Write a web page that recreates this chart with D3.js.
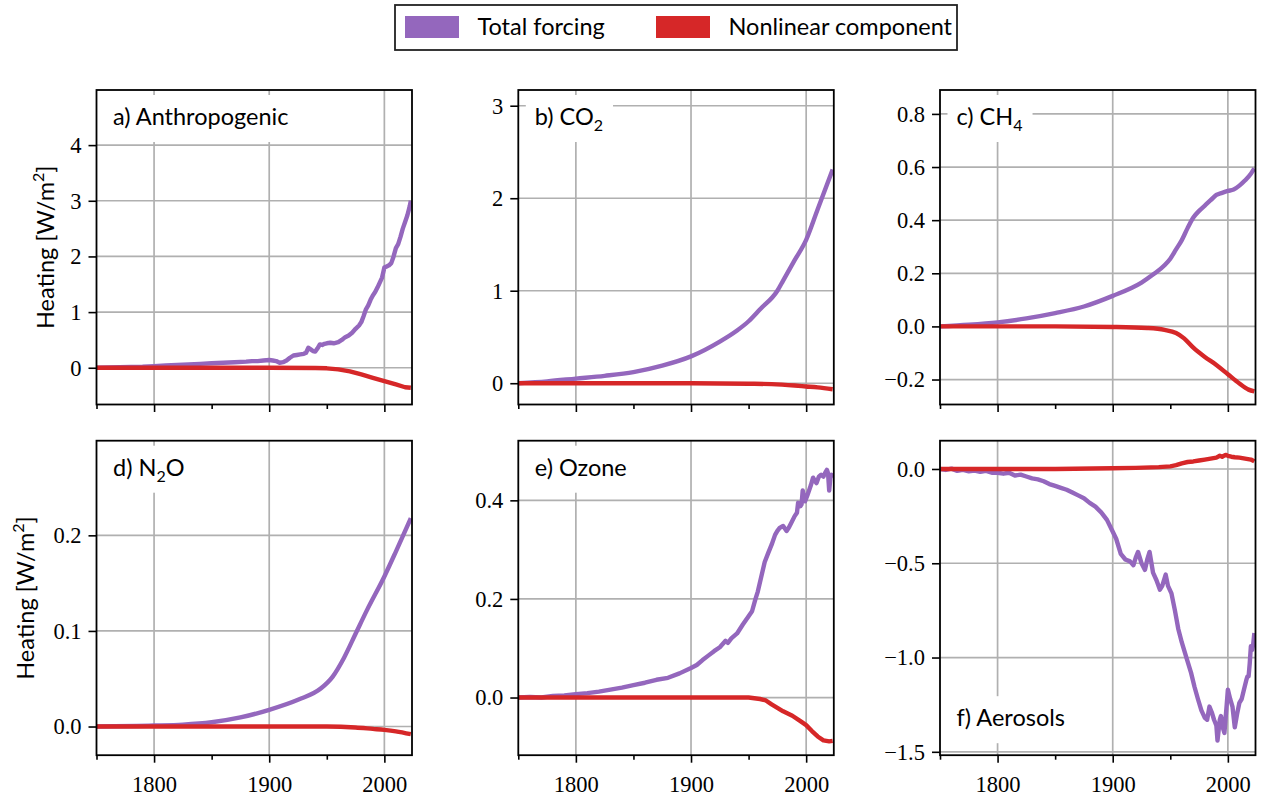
<!DOCTYPE html>
<html>
<head>
<meta charset="utf-8">
<script src="https://cdn.jsdelivr.net/npm/d3@7"></script>
<style>
  body { margin: 0; background: #fff; }
  svg { display: block; }
</style>
</head>
<body>
<svg id="chart" width="1265" height="796"></svg>
<script>

// series (years, W/m2)

const aTotalYears = [1750,1760,1770,1780,1790,1800,1810,1820,1830,1840,1850,1860,1870,1880,1885,1890,1895,1900,1903,1906,1909,1912,1915,1918,1921,1924,1927,1930,1932,1934,1936,1938,1940,1942,1944,1946,1948,1950,1953,1956,1960,1963,1966,1969,1972,1975,1978,1980,1982,1984,1986,1988,1990,1992,1994,1996,1998,2000,2002,2004,2006,2008,2010,2012,2014,2016,2018,2020,2022,2023];
const aTotal = [0,0.005,0.01,0.015,0.02,0.03,0.04,0.05,0.06,0.07,0.08,0.09,0.1,0.11,0.12,0.12,0.13,0.14,0.13,0.12,0.09,0.1,0.13,0.18,0.22,0.23,0.24,0.25,0.27,0.36,0.33,0.3,0.29,0.35,0.42,0.41,0.43,0.44,0.45,0.44,0.46,0.5,0.55,0.58,0.63,0.7,0.76,0.82,0.93,1.05,1.12,1.22,1.3,1.36,1.44,1.53,1.62,1.8,1.82,1.84,1.88,2.0,2.15,2.22,2.35,2.5,2.62,2.74,2.9,3.0];
const aNonlinYears = [1750,1900,1940,1950,1960,1970,1980,1990,2000,2010,2018,2023];
const aNonlin = [0,0,-0.003,-0.01,-0.03,-0.065,-0.12,-0.18,-0.24,-0.3,-0.35,-0.36];

const bTotalYears = [1750,1775,1800,1825,1850,1875,1900,1925,1940,1950,1960,1975,1980,1990,2000,2010,2023];
const bTotal = [0,0.02,0.05,0.08,0.12,0.19,0.29,0.45,0.57,0.67,0.8,1.0,1.11,1.33,1.55,1.88,2.31];
const bNonlinYears = [1750,1900,1950,1970,1990,2000,2010,2023];
const bNonlin = [0,0,-0.005,-0.01,-0.025,-0.035,-0.045,-0.065];

const cTotalYears = [1750,1775,1800,1825,1850,1875,1900,1925,1935,1945,1950,1955,1960,1965,1970,1975,1980,1985,1990,1995,2000,2005,2010,2015,2020,2023];
const cTotal = [0,0.006,0.015,0.03,0.05,0.075,0.115,0.165,0.195,0.23,0.255,0.29,0.325,0.37,0.41,0.435,0.455,0.475,0.495,0.503,0.51,0.515,0.53,0.55,0.575,0.595];
const cNonlinYears = [1750,1850,1900,1930,1945,1955,1962,1970,1980,1990,2000,2010,2018,2023];
const cNonlin = [0,0,-0.002,-0.006,-0.013,-0.025,-0.045,-0.08,-0.115,-0.145,-0.18,-0.215,-0.238,-0.245];

const dTotalYears = [1750,1800,1825,1850,1875,1900,1925,1945,1955,1965,1975,1985,2000,2010,2023];
const dTotal = [0,0.001,0.002,0.0045,0.0095,0.0175,0.028,0.04,0.052,0.072,0.097,0.122,0.157,0.183,0.218];
const dNonlinYears = [1750,1950,1975,1990,2000,2010,2023];
const dNonlin = [0,0,-0.001,-0.0025,-0.0035,-0.005,-0.008];

const eTotalYears = [1750,1760,1770,1780,1790,1800,1810,1820,1830,1840,1850,1860,1870,1880,1890,1900,1905,1910,1915,1920,1925,1930,1932,1935,1940,1945,1950,1953,1956,1958,1961,1964,1967,1970,1973,1975,1977,1980,1983,1985,1987,1990,1992,1993,1995,1996,1997,1999,2001,2004,2006,2008,2009,2011,2013,2015,2017,2018,2019,2020,2021,2022,2023];
const eTotal = [0,0.001,0,0.003,0.004,0.007,0.009,0.012,0.016,0.02,0.025,0.03,0.036,0.04,0.049,0.06,0.066,0.076,0.085,0.094,0.102,0.115,0.111,0.12,0.13,0.148,0.165,0.175,0.2,0.215,0.245,0.275,0.293,0.31,0.33,0.338,0.344,0.348,0.338,0.345,0.354,0.368,0.375,0.395,0.388,0.392,0.42,0.398,0.41,0.43,0.446,0.438,0.435,0.448,0.452,0.448,0.458,0.462,0.455,0.42,0.445,0.452,0.448];
const eNonlinYears = [1750,1950,1960,1965,1970,1975,1980,1988,1995,2000,2005,2010,2015,2020,2023];
const eNonlin = [0,0,-0.003,-0.006,-0.014,-0.021,-0.028,-0.037,-0.048,-0.056,-0.068,-0.079,-0.087,-0.089,-0.088];

const fTotalYears = [1750,1755,1760,1765,1770,1775,1780,1785,1790,1795,1800,1805,1810,1815,1820,1825,1830,1835,1840,1845,1850,1855,1860,1865,1870,1875,1880,1885,1890,1895,1899,1903,1907,1911,1915,1918,1920,1922,1925,1928,1930,1932,1935,1938,1941,1943,1946,1948,1951,1954,1957,1960,1964,1968,1971,1974,1977,1980,1982,1984,1986,1988,1990,1991,1993,1994,1996,1997,1999,2000,2002,2004,2006,2008,2010,2012,2014,2016,2017,2018,2019,2020,2021,2022,2023];
const fTotal = [0,-0.005,0.002,-0.01,-0.005,-0.012,-0.008,-0.015,-0.01,-0.02,-0.02,-0.025,-0.02,-0.035,-0.03,-0.04,-0.05,-0.055,-0.065,-0.08,-0.09,-0.1,-0.11,-0.125,-0.14,-0.155,-0.18,-0.2,-0.23,-0.27,-0.32,-0.37,-0.45,-0.48,-0.49,-0.51,-0.47,-0.44,-0.5,-0.535,-0.48,-0.44,-0.55,-0.59,-0.64,-0.62,-0.56,-0.62,-0.66,-0.75,-0.85,-0.92,-1.0,-1.08,-1.155,-1.22,-1.28,-1.32,-1.33,-1.26,-1.29,-1.33,-1.36,-1.44,-1.33,-1.31,-1.38,-1.4,-1.25,-1.17,-1.22,-1.26,-1.37,-1.3,-1.24,-1.22,-1.17,-1.12,-1.1,-1.1,-1.03,-0.94,-0.96,-0.93,-0.87];
const fNonlinYears = [1750,1800,1850,1900,1920,1940,1950,1955,1960,1965,1970,1975,1980,1985,1990,1993,1995,1998,2000,2003,2006,2010,2015,2020,2023];
const fNonlin = [0,0,0,0.004,0.006,0.01,0.014,0.02,0.03,0.037,0.04,0.045,0.05,0.055,0.06,0.07,0.065,0.075,0.07,0.065,0.062,0.06,0.055,0.05,0.04];

const legendLabels = ["Total forcing", "Nonlinear component"];
const xMajor = [1800, 1900, 2000];
const xMinor = [1750, 1850, 1950];

const purple = "#9467bd", red = "#d62728", gridColor = "#b0b0b0";
const serif = "'Liberation Serif'";
const sans = "'Lato'";

const W = 315.5, H = 314.5;
const lefts = [96.5, 518.3, 940], tops = [90, 440.7];

const panels = [
  { label: [["a) Anthropogenic"]], total: [aTotalYears, aTotal], nonlin: [aNonlinYears, aNonlin],
    yDomain: [-0.66, 4.99], yTicks: [0, 1, 2, 3, 4], fmt: d3.format("d"), col: 0, row: 0, smooth: false },
  { label: [["b) CO"], ["2", true]], total: [bTotalYears, bTotal], nonlin: [bNonlinYears, bNonlin],
    yDomain: [-0.23, 3.17], yTicks: [0, 1, 2, 3], fmt: d3.format("d"), col: 1, row: 0, smooth: true },
  { label: [["c) CH"], ["4", true]], total: [cTotalYears, cTotal], nonlin: [cNonlinYears, cNonlin],
    yDomain: [-0.294, 0.89], yTicks: [-0.2, 0, 0.2, 0.4, 0.6, 0.8], fmt: d3.format(".1f"), col: 2, row: 0, smooth: true },
  { label: [["d) N"], ["2", true], ["O"]], total: [dTotalYears, dTotal], nonlin: [dNonlinYears, dNonlin],
    yDomain: [-0.03, 0.299], yTicks: [0, 0.1, 0.2], fmt: d3.format(".1f"), col: 0, row: 1, smooth: true },
  { label: [["e) Ozone"]], total: [eTotalYears, eTotal], nonlin: [eNonlinYears, eNonlin],
    yDomain: [-0.117, 0.521], yTicks: [0, 0.2, 0.4], fmt: d3.format(".1f"), col: 1, row: 1, smooth: false },
  { label: [["f) Aerosols"]], total: [fTotalYears, fTotal], nonlin: [fNonlinYears, fNonlin],
    yDomain: [-1.518, 0.15], yTicks: [-1.5, -1, -0.5, 0], fmt: d3.format(".1f"), col: 2, row: 1, smooth: false, labelBottom: true }
];

const x = d3.scaleLinear().domain([1750, 2024]).range([0, W]);

function drawPanel(p, i) {
  const g = svg.append("g")
    .attr("transform", `translate(${lefts[p.col]},${tops[p.row]})`);
  const y = d3.scaleLinear().domain(p.yDomain).range([H, 0]);

  g.append("clipPath").attr("id", "clip" + i)
    .append("rect").attr("width", W).attr("height", H);

  // grid
  g.append("g").selectAll("line").data(xMajor).join("line")
    .attr("x1", d => x(d)).attr("x2", d => x(d))
    .attr("y1", 0).attr("y2", H)
    .attr("stroke", gridColor).attr("stroke-width", 1.7);
  g.append("g").selectAll("line").data(p.yTicks).join("line")
    .attr("y1", d => y(d)).attr("y2", d => y(d))
    .attr("x1", 0).attr("x2", W)
    .attr("stroke", gridColor).attr("stroke-width", 1.7);

  // panel label with a white box behind it
  const base = p.labelBottom ? H - 29 : 35;
  const box = g.append("rect").attr("fill", "#fff");
  const txt = g.append("text")
    .attr("x", 16.5).attr("y", base)
    .style("font-family", sans)
    .style("font-size", "23.5px");
  let shift = 0;
  p.label.forEach(([t, sub]) => {
    const want = sub ? 6 : 0;
    const ts = txt.append("tspan").text(t).attr("dy", want - shift);
    if (sub) ts.style("font-size", "16px");
    shift = want;
  });
  const bb = txt.node().getBBox();
  box.attr("x", bb.x - 9).attr("width", bb.width + 19)
    .attr("y", base - 30).attr("height", 47);

  // lines
  const line = d3.line()
    .x(d => x(d[0])).y(d => y(d[1]))
    .curve(p.smooth ? d3.curveMonotoneX : d3.curveLinear);
  const lines = g.append("g").attr("clip-path", `url(#clip${i})`);
  [[p.total, purple], [p.nonlin, red]].forEach(([s, c]) => {
    lines.append("path")
      .datum(d3.zip(s[0], s[1]))
      .attr("fill", "none").attr("stroke", c)
      .attr("stroke-width", 4.4).attr("stroke-linejoin", "round")
      .attr("d", line);
  });

  // frame
  g.append("rect").attr("width", W).attr("height", H)
    .attr("fill", "none").attr("stroke", "#000").attr("stroke-width", 1.8);

  // axes
  const minus = s => s.replace("-", "\u2212");
  const yAxis = g.append("g")
    .call(d3.axisLeft(y).tickValues(p.yTicks).tickSize(8).tickPadding(7)
      .tickFormat(d => minus(p.fmt(d))));
  const xAxis = g.append("g").attr("transform", `translate(0,${H})`)
    .call(d3.axisBottom(x).tickValues(xMajor).tickSize(7.5).tickPadding(13)
      .tickFormat(p.row === 1 ? d3.format("d") : () => ""));
  const xMin = g.append("g").attr("transform", `translate(0,${H})`)
    .call(d3.axisBottom(x).tickValues(xMinor).tickSize(4.5).tickFormat(() => ""));
  [yAxis, xAxis, xMin].forEach(a => {
    a.attr("font-family", null).attr("font-size", null);
    a.select(".domain").remove();
    a.selectAll(".tick line").attr("stroke", "#000").attr("stroke-width", 1.6);
    a.selectAll(".tick text")
      .style("font-family", serif).style("font-size", "22.5px").attr("fill", "#000");
  });
  yAxis.selectAll(".tick text").attr("dy", "0.33em");
  xAxis.selectAll(".tick text").attr("dy", "0.71em");

  // y label on the first column
  if (p.col === 0) {
    const lx = p.row === 0 ? -43 : -63;
    const yl = g.append("text")
      .attr("transform", `translate(${lx},${H / 2}) rotate(-90)`)
      .attr("text-anchor", "middle")
      .style("font-family", sans)
      .style("font-size", "23.5px");
    yl.append("tspan").text("Heating [W/m");
    yl.append("tspan").text("2").style("font-size", "16px").attr("dy", -10);
    yl.append("tspan").text("]").attr("dy", 10);
  }
}

const svg = d3.select("#chart");
panels.forEach(drawPanel);

// legend
const leg = svg.append("g");
leg.append("rect")
  .attr("x", 395).attr("y", 5).attr("width", 562).attr("height", 45)
  .attr("fill", "#fff").attr("stroke", "#222").attr("stroke-width", 1.8);
const legX = [405, 656];
[purple, red].forEach((c, i) => {
  leg.append("rect").attr("x", legX[i]).attr("y", 16).attr("width", 54).attr("height", 22)
    .attr("fill", c);
  leg.append("text").attr("x", legX[i] + 72.5).attr("y", 35)
    .style("font-family", sans)
    .style("font-size", "23.5px")
    .text(legendLabels[i]);
});

</script>
</body>
</html>
